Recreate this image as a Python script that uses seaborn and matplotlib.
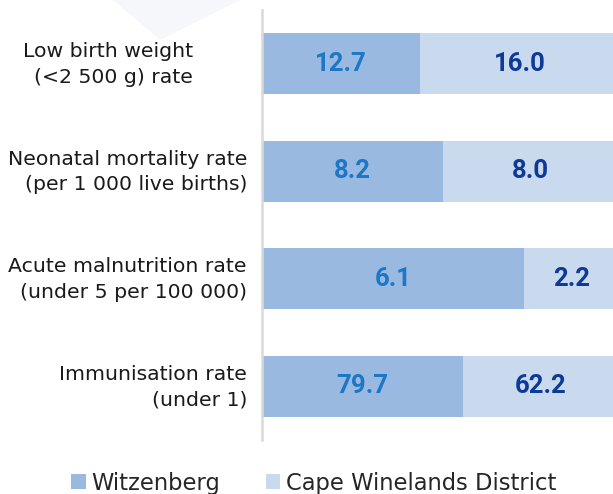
import pandas as pd
import seaborn as sns
import matplotlib.pyplot as plt
import matplotlib.transforms as mtransforms
from matplotlib.patches import Patch, Polygon

# Data
categorias = ["Low birth weight\n(<2 500 g) rate",
              "Neonatal mortality rate\n(per 1 000 live births)",
              "Acute malnutrition rate\n(under 5 per 100 000)",
              "Immunisation rate\n(under 1)"]
witzenberg = [12.7, 8.2, 6.1, 79.7]
cape_winelands = [16.0, 8.0, 2.2, 62.2]
series = ["Witzenberg", "Cape Winelands District"]

col_witz = "#99B9E0"
col_cape = "#C9D9EE"
txt_witz = "#1C77C6"
txt_cape = "#0E3A97"

df = pd.DataFrame({"cat": categorias, "witz": witzenberg, "cape": cape_winelands})
total = df["witz"] + df["cape"]
df["witz_share"] = df["witz"] / total
df["cape_share"] = df["cape"] / total
df["full"] = df["witz_share"] + df["cape_share"]

sns.set_style("white")
plt.rcParams["font.family"] = ["DejaVu Sans"]

fig = plt.figure(figsize=(6.13, 4.94), dpi=100)
ax = fig.add_axes([262 / 613, 0.1093, (619 - 262) / 613, 0.98 - 0.1093])
ax.patch.set_alpha(0)

# very faint background shape at the top left
fig.patches.append(Polygon([[113 / 613, 1.0], [240 / 613, 1.0], [160 / 613, 1 - 40 / 494]],
                           closed=True, transform=fig.transFigure,
                           facecolor="#F6F7FB", edgecolor="none", zorder=-1))

# 100% stacked bars: full bar in light colour, Witzenberg share on top
sns.barplot(data=df, x="full", y="cat", orient="h", color=col_cape,
            width=0.566, saturation=1, linewidth=0, ax=ax)
sns.barplot(data=df, x="witz_share", y="cat", orient="h", color=col_witz,
            width=0.566, saturation=1, linewidth=0, ax=ax)

for i, row in df.iterrows():
    ax.text(row["witz_share"] / 2, i, f"{row['witz']:.1f}", ha="center", va="center",
            color=txt_witz, fontsize=18.5, fontweight="bold", family="Roboto")
    ax.text(row["witz_share"] + row["cape_share"] / 2, i, f"{row['cape']:.1f}",
            ha="center", va="center", color=txt_cape, fontsize=18.5,
            fontweight="bold", family="Roboto")

ax.set_xlim(0, 1)
ax.set_ylim(3.5, -0.5)
ax.set_xlabel("")
ax.set_ylabel("")
ax.set_xticks([])
ax.tick_params(axis="y", length=0, pad=10.8)
for k, lbl in enumerate(ax.get_yticklabels()):
    lbl.set_fontsize(14.7)
    lbl.set_color("#1A1A1A")
    lbl.set_linespacing(1.45)
    # nudge labels up a little; the first one also sits further left
    dx = -54 / 100 if k == 0 else 0
    lbl.set_transform(lbl.get_transform() + mtransforms.ScaledTranslation(dx, 4.5 / 100, fig.dpi_scale_trans))

for s in ["top", "right", "bottom"]:
    ax.spines[s].set_visible(False)
ax.spines["left"].set_color("#D9D9D9")
ax.spines["left"].set_linewidth(1.8)

handles = [Patch(facecolor=col_witz, edgecolor="none"), Patch(facecolor=col_cape, edgecolor="none")]
fig.legend(handles, series, loc="center", bbox_to_anchor=(0.512, 1 - 483 / 494), ncol=2,
           frameon=False, fontsize=16.3, handlelength=0.65, handleheight=0.65,
           handletextpad=0.25, columnspacing=2.0, borderaxespad=0)

fig.savefig("out.png", dpi=100)
